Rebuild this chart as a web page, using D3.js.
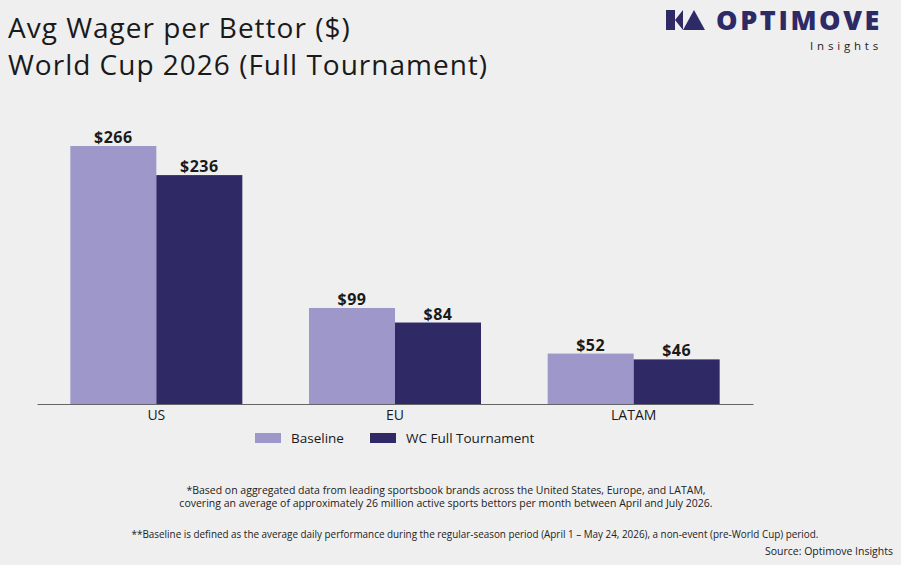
<!DOCTYPE html>
<html>
<head>
<meta charset="utf-8">
<script src="https://cdn.jsdelivr.net/npm/d3@7"></script>
<style>
  body { margin: 0; background: #efefef; }
  svg { display: block; font-family: "Open Sans", sans-serif; }
</style>
</head>
<body>
<div id="chart"></div>
<script>
// chart data
var regions = ["US", "EU", "LATAM"];
var seriesNames = ["Baseline", "WC Full Tournament"];
var baseline = [266, 99, 52];
var wcFull = [236, 84, 46];
var seriesColors = ["#9e97c9", "#2f2a66"];

var W = 901, H = 565;
var svg = d3.select("#chart").append("svg")
  .attr("width", W).attr("height", H);

svg.append("rect").attr("width", W).attr("height", H).attr("fill", "#efefef");

// title
svg.append("text").attr("x", 8).attr("y", 38)
  .style("font-size", "28px").style("letter-spacing", "1px").style("fill", "#1a1a1a")
  .text("Avg Wager per Bettor ($)");
svg.append("text").attr("x", 8).attr("y", 75)
  .style("font-size", "28px").style("letter-spacing", "1px").style("fill", "#1a1a1a")
  .text("World Cup 2026 (Full Tournament)");

// logo
var logo = svg.append("g").attr("fill", "#2e2a66");
logo.append("path").attr("d", "M666,10 L675,10 L675,30 L666,30 Z M675,20 L683,10 L683,30 Z");
logo.append("path").attr("d", "M694,10 L705,30 L683,30 Z");
logo.append("text").attr("x", 882).attr("y", 30).attr("text-anchor", "end")
  .style("font-size", "27px").style("font-weight", "800").style("letter-spacing", "2.6px")
  .text("OPTIMOVE");
logo.append("text").attr("x", 882).attr("y", 49.5).attr("text-anchor", "end")
  .style("font-size", "11.5px").style("letter-spacing", "3.8px").style("fill", "#222")
  .text("Insights");

// scales
var baseY = 404;
var x0 = d3.scaleBand().domain(regions).range([37, 753]).padding(0);
var groupW = 172;
var x1 = d3.scaleBand().domain(seriesNames).range([0, groupW]).padding(0);
var y = d3.scaleLinear().domain([0, 266]).range([baseY, 146]);

var rows = regions.map(function (r, i) {
  return { region: r, values: [baseline[i], wcFull[i]] };
});

var groups = svg.append("g").selectAll("g")
  .data(rows).enter().append("g")
  .attr("transform", function (d) {
    return "translate(" + (x0(d.region) + x0.bandwidth() / 2 - groupW / 2) + ",0)";
  });

groups.selectAll("rect")
  .data(function (d) { return d.values.map(function (v, j) { return { s: seriesNames[j], v: v, j: j }; }); })
  .enter().append("rect")
    .attr("x", function (d) { return x1(d.s); })
    .attr("y", function (d) { return y(d.v); })
    .attr("width", x1.bandwidth())
    .attr("height", function (d) { return baseY - y(d.v); })
    .attr("fill", function (d) { return seriesColors[d.j]; });

groups.selectAll("text.val")
  .data(function (d) { return d.values.map(function (v, j) { return { s: seriesNames[j], v: v }; }); })
  .enter().append("text")
    .attr("class", "val")
    .attr("x", function (d) { return x1(d.s) + x1.bandwidth() / 2; })
    .attr("y", function (d) { return y(d.v) - 3; })
    .attr("text-anchor", "middle")
    .style("font-size", "16px").style("font-weight", "bold").style("letter-spacing", "0.5px")
    .style("fill", "#1a1a1a")
    .text(function (d) { return "$" + d.v; });

// x axis
var xAxis = svg.append("g")
  .attr("transform", "translate(0," + baseY + ")")
  .call(d3.axisBottom(x0).tickSize(0).tickPadding(6));
xAxis.select(".domain").attr("stroke", "#666");
xAxis.selectAll("text").style("font-size", "14px").style("fill", "#1a1a1a")
  .style("font-family", "'Open Sans', sans-serif");

// legend
var legendX = [255, 370];
var legend = svg.append("g").selectAll("g")
  .data(seriesNames).enter().append("g")
  .attr("transform", function (d, i) { return "translate(" + legendX[i] + ",433)"; });
legend.append("rect").attr("width", 26).attr("height", 10)
  .attr("fill", function (d, i) { return seriesColors[i]; });
legend.append("text").attr("x", 36).attr("y", 10)
  .style("font-size", "13.5px").style("fill", "#1a1a1a")
  .text(function (d) { return d; });

// footnotes
var notes = svg.append("g").style("font-size", "10.5px").style("fill", "#222");
notes.append("text").attr("x", 446).attr("y", 494).attr("text-anchor", "middle")
  .text("*Based on aggregated data from leading sportsbook brands across the United States, Europe, and LATAM,");
notes.append("text").attr("x", 446).attr("y", 507).attr("text-anchor", "middle")
  .text("covering an average of approximately 26 million active sports bettors per month between April and July 2026.");
notes.append("text").attr("x", 475).attr("y", 538).attr("text-anchor", "middle")
  .style("font-size", "9.9px")
  .text("**Baseline is defined as the average daily performance during the regular-season period (April 1 \u2013 May 24, 2026), a non-event (pre-World Cup) period.");
notes.append("text").attr("x", 893).attr("y", 555).attr("text-anchor", "end")
  .text("Source: Optimove Insights");
</script>
</body>
</html>
